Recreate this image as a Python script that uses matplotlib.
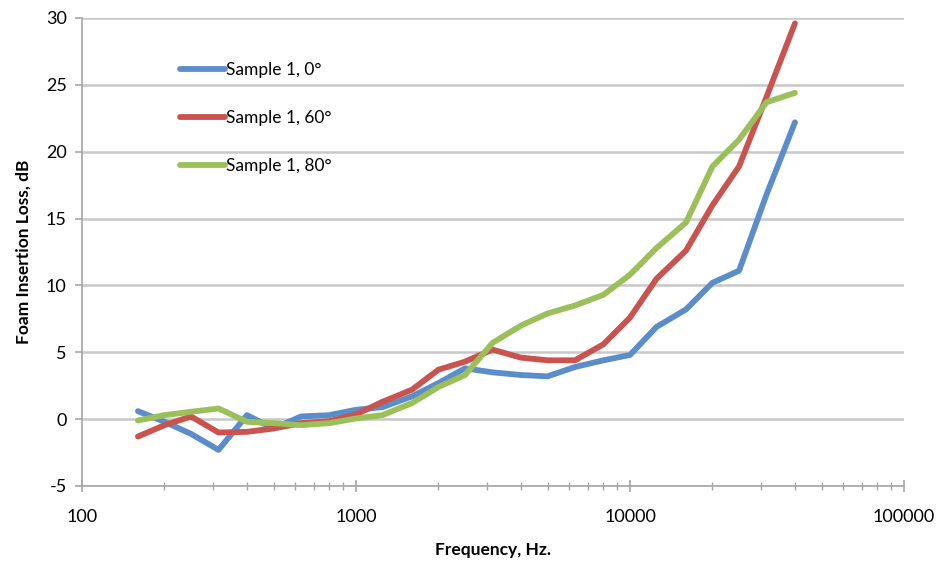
import matplotlib
matplotlib.use("Agg")
import matplotlib.pyplot as plt
from matplotlib.ticker import LogLocator, FixedLocator, NullFormatter

# One-third-octave band centre frequencies, Hz
freq = [160, 200, 250, 315, 400, 500, 630, 800, 1000, 1250, 1600, 2000, 2500,
        3150, 4000, 5000, 6300, 8000, 10000, 12500, 16000, 20000, 25000, 31500, 40000]

# Insertion loss, dB
loss_0 = [0.6, -0.2, -1.1, -2.3, 0.3, -0.7, 0.2, 0.3, 0.7, 0.9, 1.7, 2.7, 3.8,
          3.5, 3.3, 3.2, 3.9, 4.4, 4.8, 6.9, 8.2, 10.2, 11.1, 16.8, 22.2]
loss_60 = [-1.3, -0.45, 0.2, -1.0, -0.95, -0.7, -0.3, -0.15, 0.35, 1.3, 2.2, 3.7, 4.3,
           5.2, 4.6, 4.4, 4.4, 5.6, 7.6, 10.5, 12.6, 16.0, 18.9, 24.1, 29.6]
loss_80 = [-0.1, 0.3, 0.55, 0.8, -0.2, -0.3, -0.45, -0.3, 0.05, 0.3, 1.2, 2.4, 3.3,
           5.7, 7.0, 7.9, 8.5, 9.3, 10.8, 12.8, 14.7, 18.9, 20.9, 23.7, 24.4]

labels = ["Sample 1, 0°", "Sample 1, 60°", "Sample 1, 80°"]
colors = ["#5B8DCB", "#C9534F", "#9BC05A"]

plt.rcParams["font.family"] = ["Lato", "DejaVu Sans"]
plt.rcParams["axes.unicode_minus"] = False

fig = plt.figure(figsize=(9.43, 5.70), dpi=100)
ax = fig.add_axes([82 / 943, 1 - 486 / 570, (904 - 82) / 943, (486 - 18) / 570])

for y, lab, c in zip([loss_0, loss_60, loss_80], labels, colors):
    ax.plot(freq, y, color=c, lw=4.2, label=lab, solid_capstyle="round",
            solid_joinstyle="round", zorder=3)

ax.set_xscale("log")
ax.set_xlim(100, 100000)
ax.set_ylim(-5, 30)
ax.set_yticks(range(-5, 31, 5))
ax.xaxis.set_major_locator(FixedLocator([100, 1000, 10000, 100000]))
ax.xaxis.set_minor_locator(LogLocator(base=10, subs=range(2, 10)))
ax.xaxis.set_minor_formatter(NullFormatter())
ax.set_xticklabels(["100", "1000", "10000", "100000"])

ax.grid(axis="y", color="#C8C8C8", lw=1.8, zorder=0)
for s in ["top", "right"]:
    ax.spines[s].set_visible(False)
for s in ["left", "bottom"]:
    ax.spines[s].set_color("#A6A6A6")
    ax.spines[s].set_linewidth(1.2)

ax.tick_params(axis="x", which="major", direction="inout", length=9, width=1.2,
               color="#A6A6A6", labelsize=13, pad=12)
ax.tick_params(axis="x", which="minor", direction="inout", length=6, width=1.0,
               color="#A6A6A6")
ax.tick_params(axis="y", direction="out", length=5, width=1.2, color="#A6A6A6",
               labelsize=13, pad=6)

ax.set_xlabel("Frequency, Hz.", fontsize=12.5, fontweight="bold", labelpad=12)
ax.set_ylabel("Foam Insertion Loss, dB", fontsize=12.5, fontweight="bold", labelpad=10)

ax.legend(loc="upper left", bbox_to_anchor=(0.111, 0.921), frameon=False,
          fontsize=12.5, labelspacing=1.85, handlelength=2.6, handletextpad=0.05,
          borderaxespad=0)

fig.savefig("out.png", dpi=100)
